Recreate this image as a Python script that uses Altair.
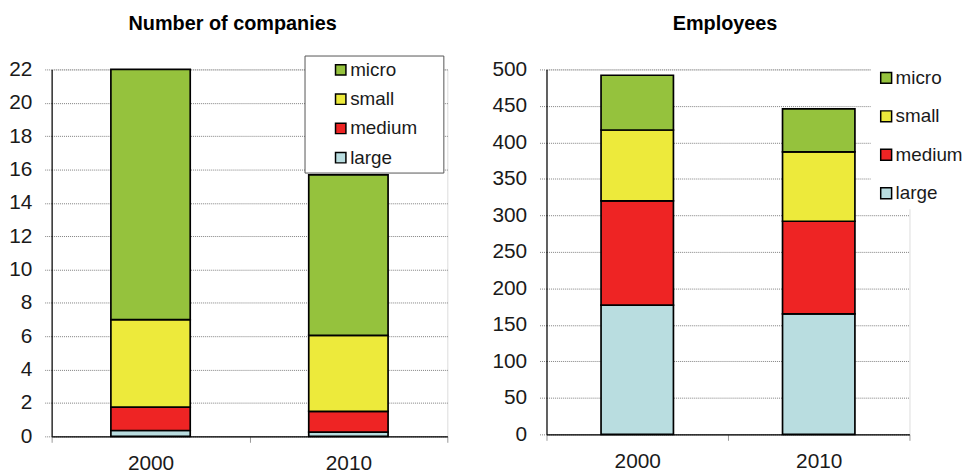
import altair as alt
import pandas as pd

years = ["2000", "2010"]
sizes = ["micro", "small", "medium", "large"]
colors = ["#95C23D", "#EDEA3B", "#EE2424", "#B9DDE0"]

companies_large = [0.35, 0.25]
companies_medium = [1.4, 1.25]
companies_small = [5.25, 4.55]
companies_micro = [15.0, 9.63]

employees_large = [177, 165]
employees_medium = [143, 127]
employees_small = [97, 95]
employees_micro = [75, 59]

stack_rank = {"large": 0, "medium": 1, "small": 2, "micro": 3}


def make_df(series):
    rows = []
    for size, vals in series.items():
        for y, v in zip(years, vals):
            rows.append({"year": y, "size": size, "value": v, "rank": stack_rank[size]})
    return pd.DataFrame(rows)


df_comp = make_df({"large": companies_large, "medium": companies_medium,
                   "small": companies_small, "micro": companies_micro})
df_emp = make_df({"large": employees_large, "medium": employees_medium,
                  "small": employees_small, "micro": employees_micro})

FONT = "Liberation Sans"


def panel(df, title, width, height, ymax, ystep, legend, title_offset, title_dx, bar_size):
    return alt.Chart(df).mark_bar(stroke="black", strokeWidth=1.7, size=bar_size).encode(
        x=alt.X("year:N", title=None, sort=years,
                scale=alt.Scale(paddingInner=0, paddingOuter=0),
                axis=alt.Axis(labelAngle=0, tickBand="extent", ticks=True, tickSize=6,
                              tickColor="#999999", domainColor="black", domainWidth=1.2,
                              labelFontSize=21, labelColor="#1a1a1a", labelFont=FONT,
                              labelPadding=10, grid=False)),
        y=alt.Y("value:Q", stack="zero", title=None,
                scale=alt.Scale(domain=[0, ymax], nice=False, zero=True),
                axis=alt.Axis(values=list(range(0, ymax + 1, ystep)), grid=True,
                              gridColor="#808080", gridDash=[1, 1], gridWidth=1,
                              tickSize=7, tickColor="#808080", tickDash=[1, 1],
                              domainColor="black", domainWidth=1.2,
                              labelFontSize=21, labelColor="#1a1a1a", labelFont=FONT,
                              labelPadding=13)),
        color=alt.Color("size:N", scale=alt.Scale(domain=sizes, range=colors),
                        legend=legend, title=None),
        order=alt.Order("rank:Q", sort="ascending"),
    ).properties(
        width=width, height=height,
        title=alt.TitleParams(title, fontSize=20, fontWeight="bold", font=FONT,
                              color="black", anchor="middle", offset=title_offset, dx=title_dx),
    )


legend_left = alt.Legend(orient="none", legendX=255, legendY=-14, fillColor="white",
                         strokeColor="#555555", padding=5, symbolOffset=22,
                         symbolType="square", symbolSize=110, symbolStrokeColor="black",
                         symbolStrokeWidth=1.5, labelFontSize=19, labelFont=FONT,
                         labelColor="#1a1a1a", labelOffset=0, rowPadding=9.5,
                         labelExpr="datum.label + '\u00a0\u00a0\u00a0\u00a0\u200b'")

legend_right = alt.Legend(orient="none", legendX=327, legendY=-7, fillColor="white",
                          padding=6, symbolType="square", symbolSize=121,
                          symbolStrokeColor="black", symbolStrokeWidth=1.5,
                          labelFontSize=19, labelFont=FONT, labelColor="#1a1a1a",
                          labelOffset=0, rowPadding=18.8)

left = panel(df_comp, "Number of companies", 399, 370, 22, 2, legend_left, 21, -17, 80)
right = panel(df_emp, "Employees", 366, 368, 500, 50, legend_right, 25, -3, 73)

chart = alt.hconcat(left, right, spacing=43).resolve_scale(color="independent").resolve_legend(
    color="independent"
).properties(
    autosize=alt.AutoSizeParams(type="none"),
    padding={"left": 44, "top": 60, "right": 921, "bottom": 402},
).configure_view(stroke=None).configure(font=FONT)

chart.save("out.html", embed_options={"renderer": "svg", "actions": False})
